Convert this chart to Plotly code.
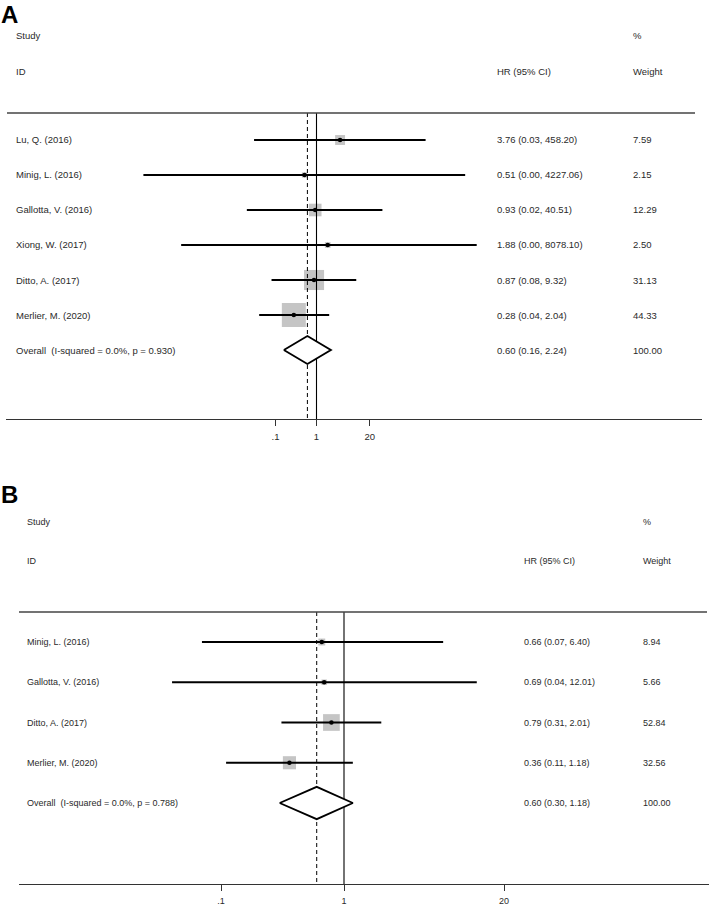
import plotly.graph_objects as go
import math

W, H = 709, 905

# ---------------- Data: panel A ----------------
A_studies = ["Lu, Q. (2016)", "Minig, L. (2016)", "Gallotta, V. (2016)",
             "Xiong, W. (2017)", "Ditto, A. (2017)", "Merlier, M. (2020)"]
A_hr = [3.76, 0.51, 0.93, 1.88, 0.87, 0.28]
A_lo = [0.03, 0.00006, 0.02, 0.0005, 0.08, 0.04]   # displayed as 0.00 where tiny
A_hi = [458.20, 4227.06, 40.51, 8078.10, 9.32, 2.04]
A_w = [7.59, 2.15, 12.29, 2.50, 31.13, 44.33]
A_overall = [0.60, 0.16, 2.24]
A_overall_label = "Overall\u00a0\u00a0(I-squared = 0.0%, p = 0.930)"

# ---------------- Data: panel B ----------------
B_studies = ["Minig, L. (2016)", "Gallotta, V. (2016)", "Ditto, A. (2017)", "Merlier, M. (2020)"]
B_hr = [0.66, 0.69, 0.79, 0.36]
B_lo = [0.07, 0.04, 0.31, 0.11]
B_hi = [6.40, 12.01, 2.01, 1.18]
B_w = [8.94, 5.66, 52.84, 32.56]
B_overall = [0.60, 0.30, 1.18]
B_overall_label = "Overall\u00a0\u00a0(I-squared = 0.0%, p = 0.788)"

tick_vals = [0.1, 1, 20]
tick_text = [".1", "1", "20"]

FONT = "Liberation Sans, Arial, sans-serif"
TXT = "#2a2a2a"
BOX = "#acacac"

fig = go.Figure()
annotations = []
shapes = []


def px_x(p):
    return p / W


def px_y(p):
    return 1 - p / H


def panel(xa, ya, studies, hr, lo, hi, w, overall, overall_label,
          one_px, decade_px, x_left, x_right, row0_px, row_px, top_px, axis_px,
          top_line, label_x, hr_x, wt_x, head_study_px, head_id_px,
          letter, letter_px, box_k, fsize):
    n = len(studies)
    x_range = [(x_left - one_px) / decade_px, (x_right - one_px) / decade_px]
    y_top = (top_px - row0_px) / row_px
    y_bot = (axis_px - row0_px) / row_px
    xkey = "xaxis" if xa == "x" else "xaxis" + xa[1:]
    ykey = "yaxis" if ya == "y" else "yaxis" + ya[1:]
    fig.layout[xkey] = dict(
        type="log", range=x_range, domain=[px_x(x_left), px_x(x_right)],
        anchor=ya, showgrid=False, zeroline=False, showline=True,
        linecolor="#333333", linewidth=1.2, ticks="outside", ticklen=6,
        tickcolor="#333333", tickwidth=1, tickvals=tick_vals, ticktext=tick_text,
        tickfont=dict(family=FONT, size=fsize, color=TXT), ticklabelstandoff=2,
    )
    fig.layout[ykey] = dict(
        range=[y_bot, y_top], domain=[px_y(axis_px), px_y(top_px)],
        anchor=xa, showgrid=False, zeroline=False, showline=False,
        showticklabels=False, ticks="",
    )
    rows = list(range(n))
    ov_row = n
    # boxes
    fig.add_trace(go.Scatter(
        x=hr, y=rows, mode="markers", xaxis=xa, yaxis=ya,
        marker=dict(symbol="square", color=BOX,
                    size=[box_k * math.sqrt(v) for v in w], line=dict(width=0)),
        hoverinfo="skip", showlegend=False))
    # CI lines
    for i in range(n):
        fig.add_trace(go.Scatter(
            x=[lo[i], hi[i]], y=[rows[i], rows[i]], mode="lines",
            xaxis=xa, yaxis=ya, line=dict(color="black", width=1.9),
            hoverinfo="skip", showlegend=False))
    # point estimates
    fig.add_trace(go.Scatter(
        x=hr, y=rows, mode="markers", xaxis=xa, yaxis=ya,
        marker=dict(symbol="circle", color="black", size=4.5),
        hoverinfo="skip", showlegend=False))
    # vertical reference lines
    fig.add_trace(go.Scatter(
        x=[1, 1], y=[y_top, y_bot], mode="lines", xaxis=xa, yaxis=ya,
        line=dict(color="black", width=1.1), hoverinfo="skip", showlegend=False))
    fig.add_trace(go.Scatter(
        x=[overall[0], overall[0]], y=[y_top, y_bot], mode="lines", xaxis=xa, yaxis=ya,
        line=dict(color="black", width=1, dash="4px,3px"), hoverinfo="skip", showlegend=False))
    # overall diamond
    est, l, h = overall
    fig.add_trace(go.Scatter(
        x=[l, est, h, est, l], y=[ov_row, ov_row - 0.4, ov_row, ov_row + 0.4, ov_row],
        mode="lines", fill="toself", fillcolor="white", xaxis=xa, yaxis=ya,
        line=dict(color="black", width=1.9), hoverinfo="skip", showlegend=False))
    # top line
    shapes.append(dict(type="line", xref="paper", yref="paper",
                       x0=px_x(top_line[0]), x1=px_x(top_line[1]),
                       y0=px_y(top_px), y1=px_y(top_px),
                       line=dict(color="#444444", width=1.3)))

    def txt(x, y, s, yref="paper", size=fsize, bold=False):
        annotations.append(dict(
            x=px_x(x), y=y, xref="paper", yref=yref, text=("<b>%s</b>" % s) if bold else s,
            showarrow=False, xanchor="left", yanchor="middle",
            font=dict(family=FONT, size=size, color="black" if bold else TXT)))
    txt(label_x, px_y(head_study_px), "Study")
    txt(label_x, px_y(head_id_px), "ID")
    txt(hr_x, px_y(head_id_px), "HR (95% CI)")
    txt(wt_x, px_y(head_study_px), "%")
    txt(wt_x, px_y(head_id_px), "Weight")
    txt(-1, px_y(letter_px), letter, size=24, bold=True)
    for i in range(n):
        txt(label_x, rows[i], studies[i], yref=ya)
        txt(hr_x, rows[i], "%.2f (%.2f, %.2f)" % (hr[i], lo[i], hi[i]), yref=ya)
        txt(wt_x, rows[i], "%.2f" % w[i], yref=ya)
    txt(label_x, ov_row, overall_label, yref=ya)
    txt(hr_x, ov_row, "%.2f (%.2f, %.2f)" % (est, l, h), yref=ya)
    txt(wt_x, ov_row, "%.2f" % 100.00, yref=ya)


panel("x", "y", A_studies, A_hr, A_lo, A_hi, A_w, A_overall, A_overall_label,
      one_px=316.5, decade_px=41, x_left=6, x_right=702,
      row0_px=140, row_px=35, top_px=113, axis_px=419, top_line=(7, 695),
      label_x=14, hr_x=495, wt_x=631, head_study_px=35, head_id_px=71,
      letter="A", letter_px=15, box_k=3.6, fsize=9.5)

panel("x2", "y2", B_studies, B_hr, B_lo, B_hi, B_w, B_overall, B_overall_label,
      one_px=344, decade_px=123, x_left=19, x_right=709,
      row0_px=642, row_px=40.25, top_px=612, axis_px=884, top_line=(19, 707),
      label_x=25, hr_x=522, wt_x=641, head_study_px=522, head_id_px=561,
      letter="B", letter_px=494, box_k=2.3, fsize=9)

fig.update_layout(
    width=W, height=H, margin=dict(l=0, r=0, t=0, b=0),
    paper_bgcolor="white", plot_bgcolor="white",
    showlegend=False, annotations=annotations, shapes=shapes,
)

fig.write_html("out.html", config={"displayModeBar": False, "staticPlot": True},
               post_script="document.body.style.margin='0';document.body.style.overflow='hidden';")
